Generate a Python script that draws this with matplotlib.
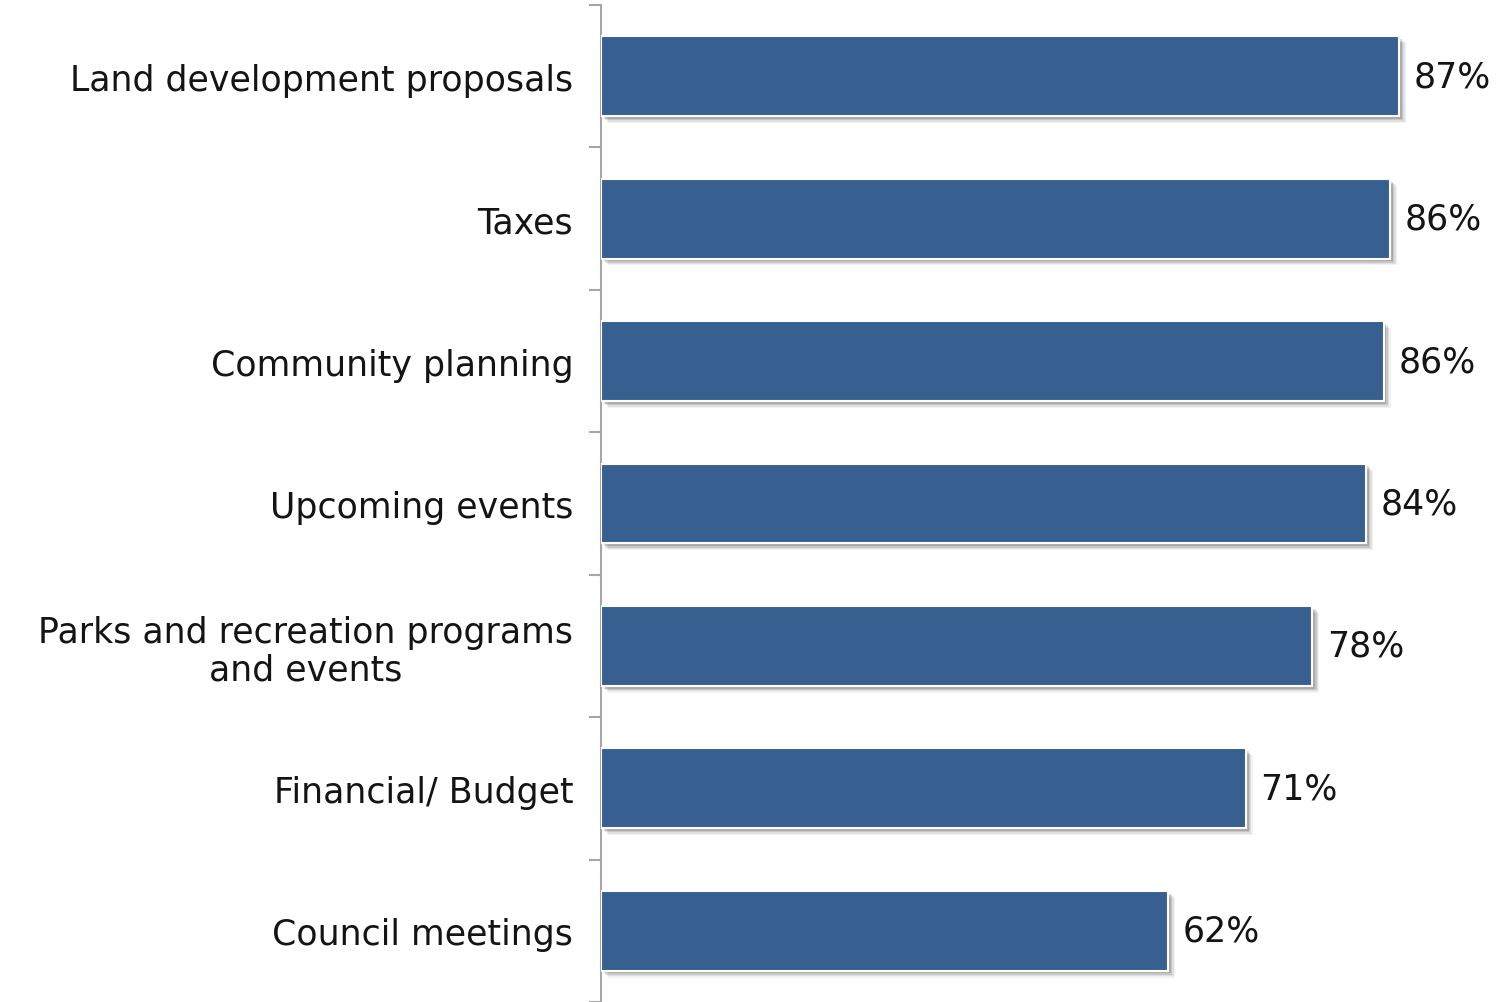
import matplotlib
matplotlib.use("Agg")
import matplotlib.pyplot as plt
import matplotlib.patheffects as pe
import numpy as np

categories = [
    "Land development proposals",
    "Taxes",
    "Community planning",
    "Upcoming events",
    "Parks and recreation programs\nand events",
    "Financial/ Budget",
    "Council meetings",
]
values = [87.4, 86.4, 85.7, 83.8, 77.9, 70.6, 62.1]

bar_color = "#376090"
axis_color = "#A6A6A6"
text_color = "#141414"
font = ["DejaVu Sans"]
fsize = 25

plt.rcParams["font.family"] = font

fig = plt.figure(figsize=(14.96, 10.03), dpi=100)
ax = fig.add_axes([601 / 1496, 0.0, 1 - 601 / 1496, 997 / 1003])

n = len(categories)
y = np.arange(n)

# soft drop shadow under each bar
shadow = [
    pe.SimplePatchShadow(offset=(5, -5), shadow_rgbFace="#000000", alpha=0.05),
    pe.SimplePatchShadow(offset=(4, -4), shadow_rgbFace="#000000", alpha=0.08),
    pe.SimplePatchShadow(offset=(3, -3), shadow_rgbFace="#000000", alpha=0.11),
    pe.SimplePatchShadow(offset=(2, -2), shadow_rgbFace="#000000", alpha=0.14),
    pe.Normal(),
]

bars = ax.barh(y, values, height=0.56, color=bar_color, edgecolor="white",
               linewidth=1.5, zorder=3)
for b in bars:
    b.set_path_effects(shadow)

for yi, v in zip(y, values):
    ax.text(v + 1.6, yi, f"{v:.0f}%", va="center", ha="left",
            fontsize=fsize, color=text_color)

ax.set_ylim(n - 0.5, -0.5)
ax.set_xlim(0, 98)

ax.set_yticks(y)
ax.set_yticklabels(categories, fontsize=fsize, color=text_color,
                   multialignment="center", linespacing=1.1)
ax.set_yticks(np.arange(n + 1) - 0.5, minor=True)
ax.tick_params(axis="y", which="major", length=0, pad=20)
ax.tick_params(axis="y", which="minor", length=9, width=1.5, color=axis_color)

ax.set_xticks([])
for s in ["top", "right", "bottom"]:
    ax.spines[s].set_visible(False)
ax.spines["left"].set_color(axis_color)
ax.spines["left"].set_linewidth(1.5)

fig.savefig("out.png", dpi=100)
